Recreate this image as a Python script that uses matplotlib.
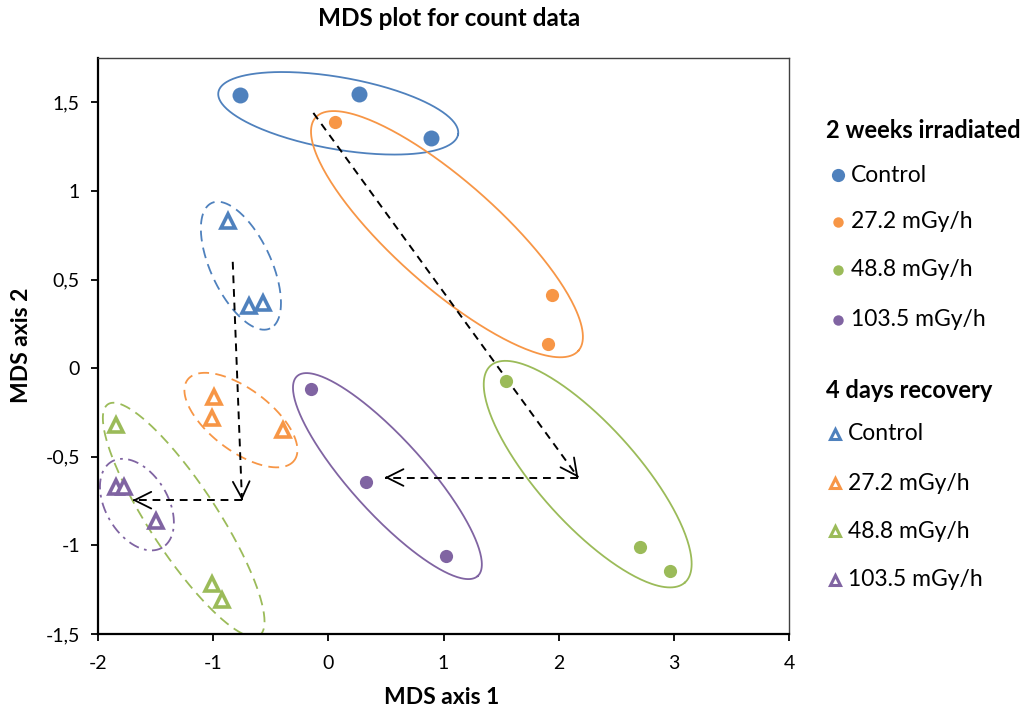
import numpy as np
import matplotlib
matplotlib.use("Agg")
import matplotlib.pyplot as plt
from matplotlib.lines import Line2D
from matplotlib.ticker import FuncFormatter

plt.rcParams['font.family'] = ['Lato', 'DejaVu Sans']

# ---------------- data ----------------
groups = ["Control", "27.2 mGy/h", "48.8 mGy/h", "103.5 mGy/h"]
colors = ["#4F81BD", "#F79646", "#9BBB59", "#8064A2"]

# 2 weeks irradiated (filled circles)
irr_x = [
    [-0.77, 0.27, 0.89],
    [0.06, 1.94, 1.91],
    [1.54, 2.71, 2.97],
    [-0.15, 0.33, 1.02],
]
irr_y = [
    [1.54, 1.545, 1.30],
    [1.39, 0.41, 0.135],
    [-0.075, -1.01, -1.145],
    [-0.12, -0.64, -1.06],
]

# 4 days recovery (open triangles)
rec_x = [
    [-0.87, -0.69, -0.57],
    [-0.99, -1.01, -0.39],
    [-1.84, -1.01, -0.92],
    [-1.84, -1.77, -1.50],
]
rec_y = [
    [0.83, 0.35, 0.37],
    [-0.16, -0.28, -0.35],
    [-0.32, -1.22, -1.31],
    [-0.67, -0.67, -0.86],
]

# group ellipses: centre (data), semi-axes (px), tilt (deg, clockwise on screen)
ell_cx_irr = [0.086, 1.030, 2.252, 0.513]
ell_cy_irr = [1.438, 0.756, -0.598, -0.609]
ell_a_irr = [121.7, 175.7, 145.6, 134.7]
ell_b_irr = [36.0, 52.6, 49.4, 37.2]
ell_t_irr = [10.0, 41.6, 48.1, 47.9]

ell_cx_rec = [-0.759, -0.759, -1.256, -1.662]
ell_cy_rec = [0.578, -0.293, -0.856, -0.770]
ell_a_rec = [69.2, 66.9, 138.2, 49.9]
ell_b_rec = [30.2, 30.9, 34.0, 31.2]
ell_t_rec = [65.0, 37.1, 56.8, 59.4]

# trajectory arrows (start x, start y, end x, end y)
arrow_x0 = [-0.13, 2.17, -0.83, -0.75]
arrow_y0 = [1.44, -0.617, 0.60, -0.745]
arrow_x1 = [2.17, 0.49, -0.75, -1.70]
arrow_y1 = [-0.617, -0.617, -0.745, -0.745]

xticks = [-2, -1, 0, 1, 2, 3, 4]
yticks = [-1.5, -1.0, -0.5, 0.0, 0.5, 1.0, 1.5]

# ---------------- figure ----------------
W, H = 1034, 713
fig = plt.figure(figsize=(W / 100, H / 100), dpi=100)
L, R, T, B = 98, 789, 58, 634
ax = fig.add_axes([L / W, 1 - B / H, (R - L) / W, (B - T) / H])
ax.set_xlim(-2, 4)
ax.set_ylim(-1.5, 1.75)

sx = (R - L) / 6.0
sy = (B - T) / 3.25


def ellipse(cx, cy, a, b, t, **kw):
    th = np.radians(t)
    s = np.linspace(0, 2 * np.pi, 300)
    px = a * np.cos(s) * np.cos(th) - b * np.sin(s) * np.sin(th)
    py = a * np.cos(s) * np.sin(th) + b * np.sin(s) * np.cos(th)
    ax.plot(cx + px / sx, cy - py / sy, **kw)


for i in range(4):
    ellipse(ell_cx_irr[i], ell_cy_irr[i], ell_a_irr[i], ell_b_irr[i], ell_t_irr[i],
            color=colors[i], lw=1.3, zorder=2)
    ls = (0, (6, 3.5)) if i < 3 else (0, (6, 3, 1.5, 3))
    ellipse(ell_cx_rec[i], ell_cy_rec[i], ell_a_rec[i], ell_b_rec[i], ell_t_rec[i],
            color=colors[i], lw=1.3, ls=ls, zorder=2)

circle_ms = [11.5, 9.5, 9.5, 9.5]
for i in range(4):
    ax.plot(irr_x[i], irr_y[i], 'o', ms=circle_ms[i], color=colors[i],
            mec='none', zorder=4)
    ax.plot(rec_x[i], rec_y[i], '^', ms=10.5, mfc='white', mec=colors[i],
            mew=2.6, zorder=4)

for x0, y0, x1, y1 in zip(arrow_x0, arrow_y0, arrow_x1, arrow_y1):
    ax.plot([x0, x1], [y0, y1], color='black', lw=1.4, ls=(0, (4, 3)), zorder=3)
    dx, dy = x1 - x0, y1 - y0
    n = np.hypot(dx * sx, dy * sy)
    ax.annotate('', xy=(x1, y1), xytext=(x1 - dx / n * 2, y1 - dy / n * 2),
                arrowprops=dict(arrowstyle='->,head_length=1.2,head_width=0.6',
                                color='black', lw=1.3, shrinkA=0, shrinkB=0),
                zorder=3)

ax.set_xticks(xticks)
ax.set_yticks(yticks)
fmt = FuncFormatter(lambda v, p: (f"{v:g}").replace('.', ','))
ax.xaxis.set_major_formatter(fmt)
ax.yaxis.set_major_formatter(fmt)
ax.tick_params(direction='out', length=5, width=1.3, labelsize=14,
               colors='black')
ax.tick_params(axis='x', pad=10)
ax.tick_params(axis='y', pad=8)
for side in ['left', 'bottom']:
    ax.spines[side].set_linewidth(1.6)
    ax.spines[side].set_color('black')
for side in ['top', 'right']:
    ax.spines[side].set_linewidth(1.0)
    ax.spines[side].set_color('#404040')

fig.text(449 / W, 1 - 18 / H, "MDS plot for count data", ha='center', va='center',
         fontsize=17.5, fontweight='bold')
fig.text(442 / W, 1 - 698 / H, "MDS axis 1", ha='center', va='center',
         fontsize=16.5, fontweight='bold')
fig.text(22 / W, 1 - 345 / H, "MDS axis 2", ha='center', va='center',
         fontsize=16.5, fontweight='bold', rotation=90)

# ---------------- legend ----------------
fig.text(826 / W, 1 - 130 / H, "2 weeks irradiated", ha='left', va='center',
         fontsize=17, fontweight='bold')
fig.text(826 / W, 1 - 390 / H, "4 days recovery", ha='left', va='center',
         fontsize=17, fontweight='bold')
irr_rows = [175, 222, 270, 320]
rec_rows = [434, 483, 531, 580]
leg_ms = [9.5, 7.5, 7.5, 7.5]
for i in range(4):
    fig.add_artist(Line2D([838 / W], [1 - irr_rows[i] / H], marker='o', ls='none',
                          ms=leg_ms[i], color=colors[i], mec='none',
                          transform=fig.transFigure))
    fig.text(851 / W, 1 - irr_rows[i] / H, groups[i], ha='left', va='center',
             fontsize=16.5)
    fig.add_artist(Line2D([835 / W], [1 - rec_rows[i] / H], marker='^', ls='none',
                          ms=7, mfc='white', mec=colors[i], mew=2.2,
                          transform=fig.transFigure))
    fig.text(848 / W, 1 - rec_rows[i] / H, groups[i], ha='left', va='center',
             fontsize=16.5)

fig.savefig("out.png", dpi=100)
